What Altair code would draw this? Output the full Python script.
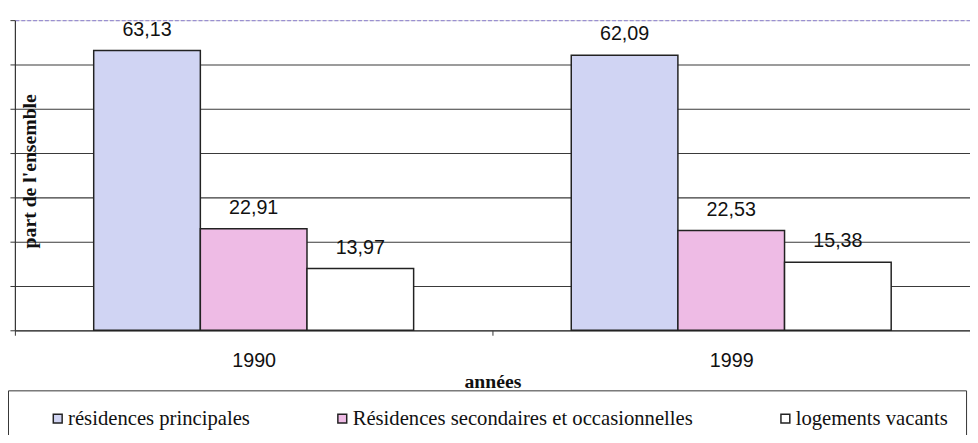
import altair as alt
import pandas as pd

years = ["1990", "1999"]
categories = [
    "résidences principales",
    "Résidences secondaires et occasionnelles",
    "logements vacants",
]
values_1990 = [63.13, 22.91, 13.97]
values_1999 = [62.09, 22.53, 15.38]
colors = ["#d0d4f3", "#eebbe5", "#ffffff"]
y_ticks = [0, 10, 20, 30, 40, 50, 60, 70]

rows = []
for year, vals in zip(years, [values_1990, values_1999]):
    for cat, v in zip(categories, vals):
        rows.append({"annee": year, "cat": cat, "part": v,
                     "label": f"{v:.2f}".replace(".", ",")})
df = pd.DataFrame(rows)

x = alt.X("annee:N", sort=years,
          scale=alt.Scale(paddingInner=0, paddingOuter=0),
          axis=alt.Axis(title="années", titleFont="Liberation Serif", titleFontSize=20,
                        titleFontWeight="bold", titleColor="#111",
                        titleY=58, titleBaseline="alphabetic",
                        labelAngle=0, labelFont="Liberation Sans", labelFontSize=20,
                        labelColor="#111", labelPadding=16,
                        tickBand="extent", tickSize=5, tickColor="#333",
                        domainColor="#444", domainWidth=1.2))
xo = alt.XOffset("cat:N", sort=categories,
                 scale=alt.Scale(paddingInner=0, paddingOuter=0.739))
y = alt.Y("part:Q", scale=alt.Scale(domain=[0, 70], nice=False),
          axis=alt.Axis(values=y_ticks, labels=False, tickSize=5, tickColor="#333",
                        domainColor="#333", domainWidth=1.2,
                        grid=True,
                        gridColor={"condition": {"test": "datum.value === 70", "value": "#9a90d0"},
                                   "value": "#3a3a3a"},
                        gridDash={"condition": {"test": "datum.value === 70", "value": [4, 2]},
                                  "value": []},
                        gridWidth=1.1,
                        title="part de l'ensemble", titleFont="Liberation Serif",
                        titleFontSize=20, titleFontWeight="bold", titleColor="#111",
                        titleAngle=-90, titleX=21, titleY=153,
                        titleBaseline="alphabetic", titleAlign="center"))

bars = alt.Chart(df).mark_bar(stroke="#222", strokeWidth=1.5).encode(
    x=x, xOffset=xo, y=y,
    color=alt.Color("cat:N", sort=categories,
                    scale=alt.Scale(domain=categories, range=colors),
                    legend=alt.Legend(title=None, orient="none", legendX=-7, legendY=376,
                                      direction="horizontal", padding=18, symbolOffset=22,
                                      strokeColor="#333", fillColor="white",
                                      labelFont="Liberation Serif", labelFontSize=21,
                                      labelColor="#111", labelLimit=600,
                                      symbolType="square", symbolSize=81,
                                      symbolStrokeColor="#222", symbolStrokeWidth=1.5,
                                      labelOffset=0, columnPadding=61)),
)

labels = alt.Chart(df).mark_text(dy=-15, baseline="alphabetic", fontSize=20,
                                 font="Liberation Sans", color="#111").encode(
    x=x, xOffset=xo, y=y, text="label:N",
)

chart = alt.layer(bars, labels).properties(
    width=970, height=315,
    autosize=alt.AutoSizeParams(type="none"),
    padding={"left": 7, "top": 9, "right": 0, "bottom": 103},
).configure_view(stroke=None).configure(background="white")

chart.save("out.html", embed_options={"renderer": "svg", "actions": False})
